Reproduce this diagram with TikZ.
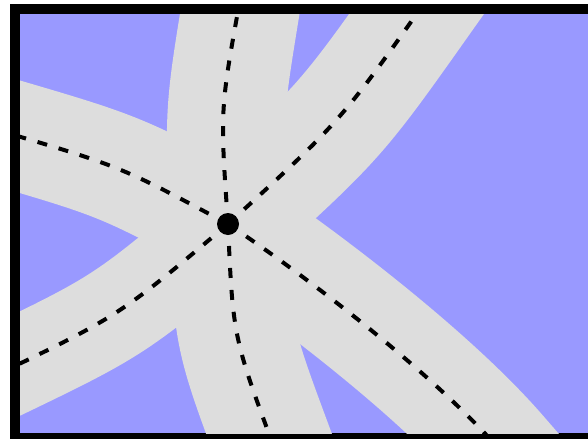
\documentclass[tikz,border=0pt]{standalone}
\usepackage{tikz}

\definecolor{water}{RGB}{153,153,255}
\definecolor{asphalt}{RGB}{221,221,221}

\begin{document}
\begin{tikzpicture}[x=0.5pt, y=-0.5pt,
		road/.style={draw=asphalt, line cap=butt},
		lane/.style={draw=black, line width=2pt, dash pattern=on 5pt off 6pt},
		hub/.style={circle, fill=black, inner sep=0pt, minimum size=11pt}
	]
	\useasboundingbox (0,0) rectangle (588,439);
	\fill[black] (10,4) rectangle (588,439);
	\fill[water] (20,14) rectangle (588,433);
	\coordinate (H) at (228,224);
	\coordinate (L) at (-68,111);
	\coordinate (U) at (252,-58);
	\coordinate (UR) at (465,-54);
	\coordinate (LR) at (540,496);
	\coordinate (D) at (296,506);
	\coordinate (LL) at (-64,404);
	\begin{scope}
		\clip (20,14) rectangle (588,433);
		\draw[road, line width=54pt] (H) .. controls (120,166) .. (-10,128) -- (L);
		\draw[road, line width=59pt] (H) .. controls (224,110) .. (242,0) -- (U);
		\draw[road, line width=55pt] (H) .. controls (341,121) .. (430,-5) -- (UR);
		\draw[road, line width=55pt] (H) .. controls (300,272) and (430,370) .. (500,450) -- (LR);
		\draw[road, line width=59pt] (H) .. controls (233,337) .. (275,450) -- (D);
		\draw[road, line width=47pt] (H) .. controls (119,316) .. (-10,378) -- (LL);
		\draw[lane] (H) .. controls (120,166) .. (-10,128) -- (L);
		\draw[lane] (H) .. controls (220,110) .. (240,0) -- (U);
		\draw[lane] (H) .. controls (341,121) .. (430,-5) -- (UR);
		\draw[lane] (H) .. controls (300,272) and (430,370) .. (500,450) -- (LR);
		\draw[lane] (H) .. controls (233,337) .. (275,450) -- (D);
		\draw[lane] (H) .. controls (119,316) .. (-10,378) -- (LL);
	\end{scope}
	\node[hub] (C) at (H) {};
\end{tikzpicture}
\end{document}
